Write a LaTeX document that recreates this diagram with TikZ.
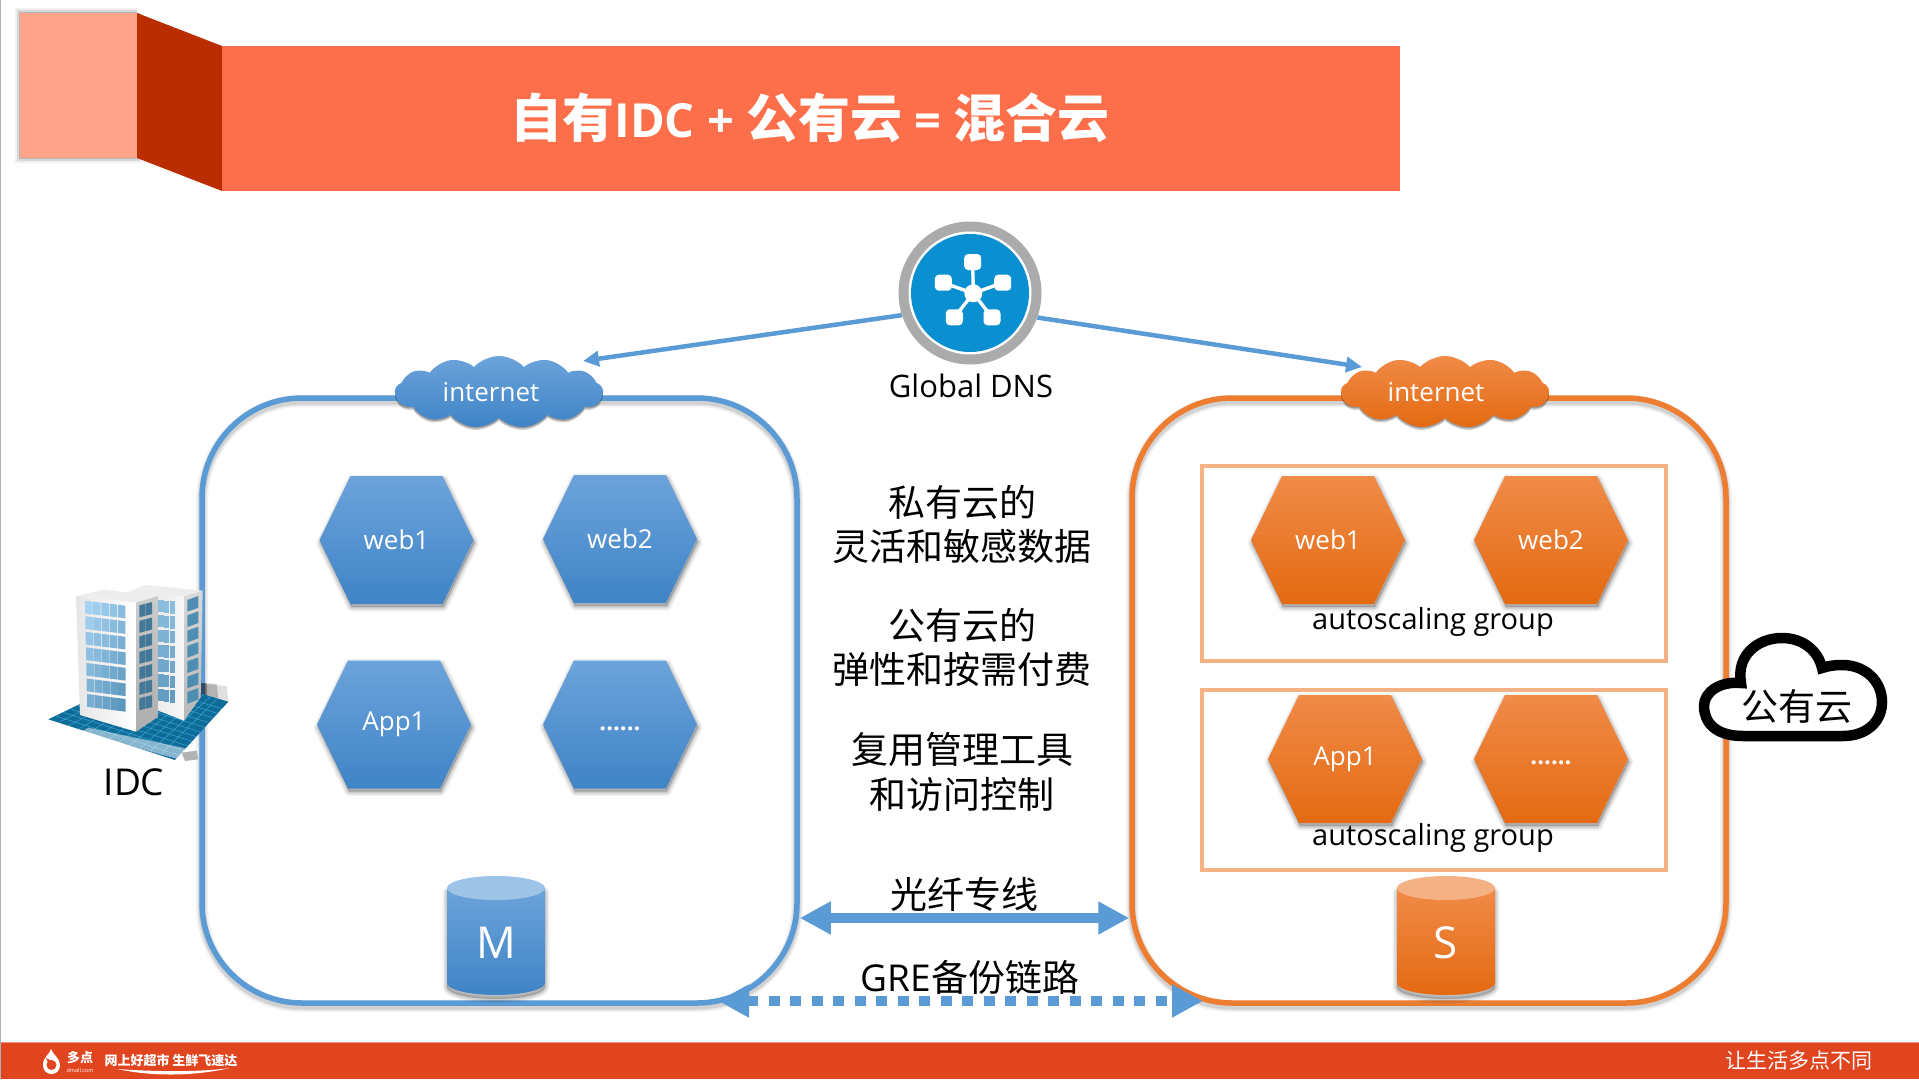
\documentclass[tikz,border=0pt]{standalone}
\usepackage{fontspec}
\setmainfont{Open Sans}
\newfontfamily\cjk{Noto Sans CJK SC}
\usetikzlibrary{arrows.meta,shapes.symbols,shadows}
\definecolor{bl}{HTML}{5B9BD5}
\definecolor{blt}{HTML}{6CA3DB}
\definecolor{blb}{HTML}{3F84C6}
\definecolor{bltop}{HTML}{9DC3E6}
\definecolor{or}{HTML}{ED7D31}
\definecolor{ort}{HTML}{F08B48}
\definecolor{orb}{HTML}{E46A12}
\definecolor{orl}{HTML}{F4B183}
\definecolor{titleor}{HTML}{FD6F4A}
\definecolor{titlelt}{HTML}{FFA38B}
\definecolor{titledk}{HTML}{B92D00}
\definecolor{footer}{HTML}{E0451F}
\definecolor{footerl}{HTML}{F0967D}
\definecolor{winl}{HTML}{A5D2F2}
\definecolor{wind}{HTML}{4F8DB3}
\definecolor{matc}{HTML}{0E6C9B}
\definecolor{dnsb}{HTML}{0A8FD1}
\tikzset{
  blueshade/.style={top color=blt,bottom color=blb,draw=none},
  orangeshade/.style={top color=ort,bottom color=orb,draw=none},
  hexlabel/.style={text=white,font=\fontsize{26}{26}\selectfont,inner sep=0pt},
  dotlabel/.style={text=white,font=\bfseries\fontsize{24}{24}\selectfont,inner sep=0pt},
  cjktext/.style={text=black,font=\cjk\fontsize{37}{37}\selectfont,inner sep=0pt},
  latintext/.style={text=black,font=\fontsize{29}{29}\selectfont,inner sep=0pt},
  whitetext/.style={text=white,font=\fontsize{26}{26}\selectfont,inner sep=0pt},
  bigbox/.style={draw,line width=5.5pt,rounded corners=100pt,minimum width=595pt,minimum height=605pt,inner sep=0pt},
  asgroup/.style={draw=orl,line width=3.5pt,minimum width=464pt,inner sep=0pt},
  netcloud/.style={cloud,cloud puffs=13,cloud puff arc=95,cloud ignores aspect,minimum width=208pt,minimum height=72pt,inner sep=0pt,
     drop shadow={shadow xshift=0pt,shadow yshift=-3pt,opacity=.18,fill=black},
     drop shadow={shadow xshift=0pt,shadow yshift=-1.5pt,opacity=.25,fill=black}},
  thinarrow/.style={draw=bl,line width=4.5pt,-{Triangle[length=16pt,width=15pt]}},
  fatarrow/.style={draw=bl,line width=10pt,{Triangle[length=31pt,width=31pt]}-{Triangle[length=31pt,width=31pt]}},
  dotarrow/.style={fatarrow,dash pattern=on 11pt off 10.5pt},
  icon/.style={white,rounded corners=4pt}
}
\newcommand{\softshadow}[1]{%
  \foreach \wd/\op in {9/.05,6/.07,3/.09}{\path[draw=black,fill=black,line width=\wd pt,opacity=\op,line join=round] #1;}}
\newcommand{\hexa}[5]{%
  \begin{scope}[shift={(#2,#3)}]
    \begin{scope}[shift={(1,3)}]
      \softshadow{(-77,0)--(-46,-64)--(46,-64)--(77,0)--(46,64)--(-46,64)--cycle}
    \end{scope}
    \shade[#5] (-77,0)--(-46,-64)--(46,-64)--(77,0)--(46,64)--(-46,64)--cycle;
    \node[#4] (#1) at (0,0) {};
  \end{scope}}
\newcommand{\cyl}[5]{%
  \begin{scope}[shift={(#2,0)}]
    \begin{scope}[shift={(0,4)}]
      \softshadow{(-49,888) -- (-49,983) arc[start angle=180,end angle=360,x radius=49pt,y radius=12pt] -- (49,888) -- cycle}
    \end{scope}
    \shade[#4] (-49,888) -- (-49,983) arc[start angle=180,end angle=360,x radius=49pt,y radius=12pt] -- (49,888) -- cycle;
    \fill[#5] (0,888) ellipse[x radius=49pt,y radius=12pt];
    \node[text=white,font=\fontsize{44}{44}\selectfont,inner sep=0pt] (#1) at (0,943) {#3};
  \end{scope}}
\begin{document}
\begin{tikzpicture}[x=1pt,y=-1pt]
\useasboundingbox (0,0) rectangle (1919,1079);
\fill[white] (0,0) rectangle (1919,1079);
\draw[black!30,line width=1.2pt] (0.6,0) -- (0.6,1079);
% header
\foreach \wd/\op in {10/.06,6/.1,2/.15}{\path[fill=black,draw=black,line width=\wd pt,opacity=\op] (20,13) rectangle (137,158);}
\fill[white] (137,5) rectangle (150,13);
\fill[titlelt] (20,13) rectangle (137,158);
\fill[titledk] (137,13) -- (222,46) -- (222,191) -- (137,158) -- cycle;
\fill[titleor] (222,46) rectangle (1400,191);
\node[text=white,inner sep=0pt] (title) at (810,118) {\fontsize{52}{52}\selectfont\bfseries{\cjk\bfseries 自有}\fontsize{47}{47}\selectfont IDC + {\fontsize{52}{52}\selectfont\cjk\bfseries 公有云} = {\fontsize{52}{52}\selectfont\cjk\bfseries 混合云}};
% boxes
\foreach \wd/\op in {12/.05,9/.06,7/.08}{
  \draw[black,line width=\wd pt,opacity=\op,rounded corners=100pt] (202,401) rectangle (797,1006);
  \draw[black,line width=\wd pt,opacity=\op,rounded corners=100pt] (1132,401) rectangle (1726,1006);
}
\node[bigbox,draw=bl] (boxL) at (499.5,700.5) {};
\node[bigbox,draw=or,minimum width=594pt] (boxR) at (1429,700.5) {};
% autoscaling groups
\node[asgroup,minimum height=195pt] (grpA) at (1434,563.5) {};
\node[asgroup,minimum height=180pt] (grpB) at (1434,780) {};
\node[latintext] (grpAt) at (1433,622) {autoscaling group};
\node[latintext] (grpBt) at (1433,838) {autoscaling group};
% hexagons
\hexa{hw1}{396.5}{540}{hexlabel}{blueshade}
\node[hexlabel] (hw1t) at (hw1) {web1};
\hexa{hw2}{620}{539}{hexlabel}{blueshade}
\node[hexlabel] (hw2t) at (hw2) {web2};
\hexa{ha1}{394}{724.5}{hexlabel}{blueshade}
\node[hexlabel] (ha1t) at (ha1) {App1};
\hexa{hd1}{620}{724.5}{hexlabel}{blueshade}
\node[dotlabel] (hd1t) at (620,729) {......};
\hexa{ow1}{1328}{540}{hexlabel}{orangeshade}
\node[hexlabel] (ow1t) at (ow1) {web1};
\hexa{ow2}{1551}{540}{hexlabel}{orangeshade}
\node[hexlabel] (ow2t) at (ow2) {web2};
\hexa{oa1}{1345}{759}{hexlabel}{orangeshade}
\node[hexlabel] (oa1t) at (oa1) {App1};
\hexa{od1}{1551}{759}{hexlabel}{orangeshade}
\node[dotlabel] (od1t) at (1551,763) {......};
% cylinders
\cyl{mdb}{496}{M}{blueshade}{bltop}
\cyl{sdb}{1446}{S}{orangeshade}{orl}
% clouds
\node[netcloud,blueshade] (cloudL) at (499,392) {};
\node[whitetext] (cloudLt) at (491,392) {internet};
\node[netcloud,orangeshade] (cloudR) at (1445,392) {};
\node[whitetext] (cloudRt) at (1436,392) {internet};
% DNS
\node[circle,fill=black!33,minimum size=143pt,inner sep=0pt] (dns) at (970,293) {};
\fill[white] (dns) circle[radius=61.5pt];
\fill[dnsb] (dns) circle[radius=59pt];
\draw[white,line width=3.4pt] (973.3,293.3) -- (972.7,262) (973.3,293.3) -- (943.3,282.7) (973.3,293.3) -- (1002.7,282.7) (973.3,293.3) -- (954.3,317.3) (973.3,293.3) -- (992,317.3);
\fill[white] (973.3,293.3) circle[radius=9pt];
\foreach \cx/\cy in {972.7/262,943.3/282.7,1002.7/282.7,954.3/317.3,992/317.3}{
  \fill[icon] (\cx-8.5,\cy-8) rectangle (\cx+8.5,\cy+8);}
\node[latintext,font=\fontsize{31}{31}\selectfont] (dnst) at (971,386) {Global DNS};
\coordinate (tipL) at (583,361);
\coordinate (tipR) at (1362,367);
\draw[thinarrow] (dns.198) -- (tipL);
\draw[thinarrow] (dns.340) -- (tipR);
% middle text
\node[cjktext] (m1) at (962,502) {私有云的};
\node[cjktext] (m2) at (962,547) {灵活和敏感数据};
\node[cjktext] (m3) at (962,625) {公有云的};
\node[cjktext] (m4) at (962,669) {弹性和按需付费};
\node[cjktext] (m5) at (962,749) {复用管理工具};
\node[cjktext] (m6) at (962,794) {和访问控制};
\node[cjktext] (fib) at (964,894) {光纤专线};
\node[cjktext] (gre) at (970,977) {{\fontsize{37}{37}\selectfont\rmfamily GRE}备份链路};
\draw[fatarrow] (boxL.east |- 0,918) -- (boxR.west |- 0,918);
\coordinate (greL) at (718,1001);
\coordinate (greR) at (1203,1001);
\draw[dotarrow] (greL) -- (greR);
% IDC building
\begin{scope}[shift={(30,560)},x=.33333pt,y=-.33333pt]
  \fill[black,opacity=.12] (500,370) -- (590,378) -- (595,425) -- (500,425) -- cycle;
  \fill[black,opacity=.2] (500,368) -- (560,372) -- (565,415) -- (500,420) -- cycle;
  \fill[black,opacity=.3] (500,368) -- (530,370) -- (530,410) -- (500,418) -- cycle;
  \fill[matc] (55,478) -- (327,346) -- (595,425) -- (435,600) -- cycle;
  \foreach \t in {.08,.16,...,.96}{
    \draw[cyan!60!white,opacity=.55,line width=.5pt] ({55+380*\t},{478+122*\t}) -- ({327+268*\t},{346+79*\t});
    \draw[cyan!60!white,opacity=.55,line width=.5pt] ({55+272*\t},{478-132*\t}) -- ({435+160*\t},{600-175*\t});
  }
  \fill[white,opacity=.5] (175,503) -- (500,572) -- (505,598) -- (465,603) -- (150,517) -- cycle;
  \fill[black!30] (455,578) -- (500,572) -- (505,598) -- (465,603) -- cycle;
  % back block
  \shade[left color=black!8,right color=black!3] (380,108) -- (462,108) -- (462,482) -- (380,450) -- cycle;
  \shade[top color=black!15,bottom color=black!28] (462,108) -- (518,92) -- (512,412) -- (462,482) -- cycle;
  \foreach \i in {0,...,6}{
    \pgfmathsetmacro\mx{70-8*\i}
    \foreach \j in {0,1,2}{
      \fill[winl!\mx!wind] ({385+\j*17.3},{120+\i*44.5+\j*2}) rectangle ({385+\j*17.3+15.5},{157+\i*44.5+\j*2});}
    \fill[wind] (472,{120+\i*46}) -- (505,{108+\i*46}) -- (505,{143+\i*46}) -- (472,{155+\i*46}) -- cycle;
  }
  % roof
  \fill[black!7] (138,108) -- (225,88) -- (290,98) -- (345,75) -- (518,92) -- (462,108) -- (385,108) -- (318,128) -- cycle;
  % front block
  \shade[left color=black!10,right color=white] (138,108) -- (318,128) -- (318,515) -- (150,465) -- cycle;
  \shade[top color=black!20,bottom color=black!32] (318,128) -- (385,108) -- (385,470) -- (318,515) -- cycle;
  \foreach \i in {0,...,6}{
    \pgfmathsetmacro\mxa{100-9*\i}
    \foreach \j in {0,...,4}{
      \pgfmathsetmacro\xl{165+\i*1+\j*24.6-\i*\j*.2}
      \pgfmathsetmacro\tl{122+\i*46.7+\j*3}
      \pgfmathsetmacro\mxb{\mxa-\j*8}
      \fill[winl!\mxb!wind] (\xl,\tl) -- (\xl+22.5,\tl+3) -- (\xl+22.5,\tl+41) -- (\xl,\tl+38) -- cycle;}
    \foreach \j in {0,1}{
      \pgfmathsetmacro\xs{328+\j*20}
      \fill[wind!85!black] (\xs,{136+\i*46.5-\j*5}) -- (\xs+18.5,{131+\i*46.5-\j*5}) -- (\xs+18.5,{167+\i*46.5-\j*5}) -- (\xs,{172+\i*46.5-\j*5}) -- cycle;}
  }
\end{scope}
\node[latintext,font=\fontsize{37}{37}\selectfont] (idc) at (134,782) {IDC};
% public cloud
\draw[black,line width=10.5pt,fill=white,miter limit=4] (1743,736) .. controls (1715,736) and (1704,722) .. (1704,706) .. controls (1704,692) and (1720,681) .. (1741,683) .. controls (1736,655) and (1758,638) .. (1782,638) .. controls (1802,638) and (1818,650) .. (1822,668) .. controls (1828,666) and (1834,665) .. (1842,665) .. controls (1866,665) and (1882,682) .. (1882,702) .. controls (1882,722) and (1866,736) .. (1843,736) -- cycle;
\node[cjktext] (pub) at (1797,706) {公有云};
% footer
\fill[footer] (1,1042) rectangle (1919,1079);
\draw[footerl,line width=1pt] (1,1042) -- (1919,1042);
\fill[white] (51,1049) .. controls (50,1054) and (43,1057) .. (43,1065) .. controls (43,1071) and (47,1074) .. (51.5,1074) .. controls (57,1074) and (60,1070) .. (60,1065) .. controls (60,1058) and (53,1055) .. (51,1049) -- cycle;
\fill[footer] (51.5,1065) circle[radius=5pt];
\fill[footer] (46,1058) -- (52,1061) -- (49,1064) -- cycle;
\node[text=white,font=\cjk\bfseries\fontsize{13}{13}\selectfont,inner sep=0pt] (brand) at (80,1058) {多点};
\node[text=white,font=\fontsize{5.5}{6}\selectfont,inner sep=0pt] (brandurl) at (80,1070) {dmall.com};
\node[text=white,font=\cjk\bfseries\fontsize{13}{13}\selectfont,inner sep=0pt] (slogan) at (171,1060) {网上好超市 生鲜飞速达};
\fill[white] (117,1069) .. controls (150,1076) and (190,1077) .. (230,1068) .. controls (200,1072) and (160,1072) .. (117,1069) -- cycle;
\node[text=white,font=\cjk\fontsize{21}{21}\selectfont,inner sep=0pt] (motto) at (1799,1061) {让生活多点不同};
\end{tikzpicture}
\end{document}
